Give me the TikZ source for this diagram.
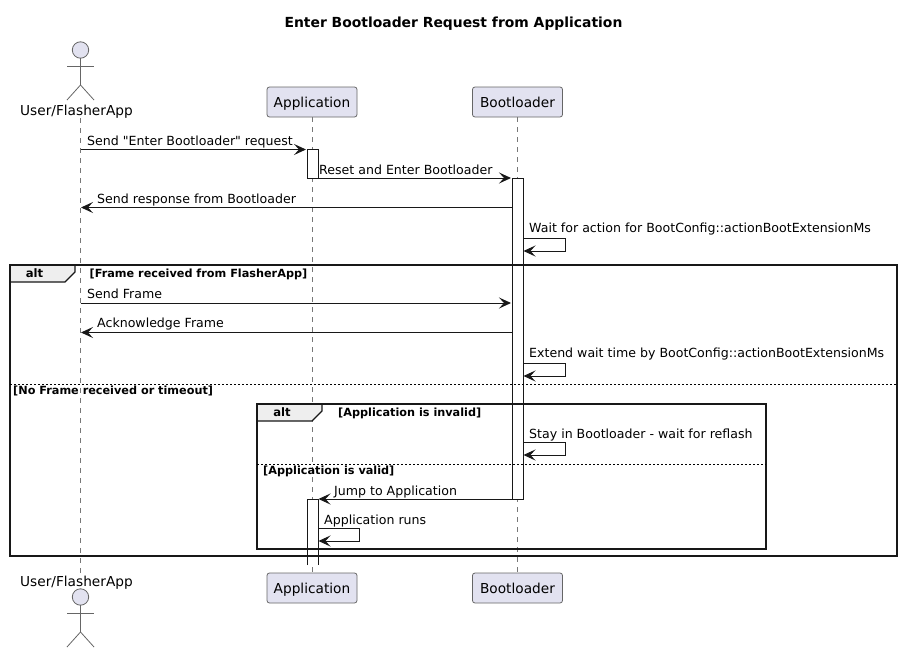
\documentclass[tikz,border=0pt]{standalone}
\usepackage{fontspec}
\setmainfont{DejaVu Sans}[Ligatures=TeXOff]
\usepackage{xcolor}
\usepackage{tikz}
\usetikzlibrary{calc}
\usetikzlibrary{positioning}
\usetikzlibrary{arrows.meta}
\definecolor{partFill}{HTML}{E2E2F0}
\definecolor{partLine}{HTML}{666666}
\definecolor{lifeColor}{HTML}{777777}
\definecolor{tabFill}{HTML}{EEEEEE}
\definecolor{msgColor}{HTML}{181818}
\tikzset{
    part/.style = {draw=partLine, fill=partFill, rounded corners=2.5pt, minimum width=90pt, minimum height=30pt, inner sep=0pt, text height=12pt, text depth=2pt, font=\fontsize{13.7}{16}\selectfont, line width=0.8pt},
    actorlabel/.style = {inner sep=0pt, minimum height=16pt, text height=12pt, text depth=2pt, font=\fontsize{13.7}{16}\selectfont},
    actorline/.style = {draw=partLine, line width=0.8pt},
    lifeline/.style = {draw=lifeColor, line width=0.7pt, dash pattern=on 5pt off 5pt},
    bar/.style = {draw=msgColor, fill=white, line width=1pt},
    msg/.style = {draw=msgColor, line width=1pt, -{Stealth[length=12pt, width=11pt, inset=5pt]}},
    msgtext/.style = {anchor=base west, inner sep=0pt, font=\fontsize{12.58}{15}\selectfont},
    frame/.style = {draw=msgColor, line width=1.5pt},
    tab/.style = {draw=msgColor, fill=tabFill, line width=1.3pt},
    tabtext/.style = {inner sep=0pt, font=\fontsize{11.6}{14}\selectfont\bfseries},
    guard/.style = {anchor=base west, inner sep=0pt, font=\fontsize{11.25}{13}\selectfont\bfseries},
    split/.style = {draw=black, line width=0.8pt, dash pattern=on 2pt off 2pt}
}
% one stick figure, head centre given
\newcommand{\stickman}[1]{
    \filldraw[actorline, fill=partFill] (#1) circle (8.2pt);
    \draw[actorline] ($(#1)+(0,8.2)$) -- ($(#1)+(0,35)$) -- ($(#1)+(-13.5,50)$);
    \draw[actorline] ($(#1)+(0,35)$) -- ($(#1)+(13.5,50)$);
    \draw[actorline] ($(#1)+(-13.5,16)$) -- ($(#1)+(13.5,16)$);
}
\begin{document}
\begin{tikzpicture}[x=1pt, y=-1pt]
    \useasboundingbox (0,0) rectangle (903,653);
    \fill[white] (0,0) rectangle (903,653);

    \node[font=\fontsize{13.9}{16}\selectfont\bfseries] (title) at (453.5,23.5) {Enter Bootloader Request from Application};

    % participants, top and bottom
    \coordinate (userHead) at (80.5,50);
    \coordinate (userFoot) at (80.5,597);
    \node[actorlabel] (userTop) at (76.5,110) {User/FlasherApp};
    \node[actorlabel] (userBot) at (76.5,581) {User/FlasherApp};
    \coordinate (userLifeA) at (80.5,118);
    \coordinate (userLifeB) at (80.5,573);
    \node[part] (appTop) at (312,102) {Application};
    \node[part] (appBot) at (312,588) {Application};
    \node[part] (bootTop) at (517.5,102) {Bootloader};
    \node[part] (bootBot) at (517.5,588) {Bootloader};

    \draw[lifeline] (userLifeA) -- (userLifeB);
    \draw[lifeline] (appTop) -- (appBot);
    \draw[lifeline] (bootTop) -- (bootBot);

    \stickman{userHead}
    \stickman{userFoot}

    % activation bars
    \filldraw[bar] (307,149.5) rectangle (318,178);
    \filldraw[bar] (512,178) rectangle (523,499);
    \fill[white] (307,499) rectangle (318,565);
    \draw[bar] (307,565) -- (307,499) -- (318,499) -- (318,565);

    % outer alt
    \coordinate (outerA) at (10,265);
    \coordinate (outerB) at (897,556);
    \filldraw[tab] (10,265) -- (75,265) -- (75,272) -- (65,282) -- (10,282) -- cycle;
    \draw[frame] (outerA) rectangle (outerB);
    \node[tabtext] (outerAlt) at (34.5,273.5) {alt};
    \node[guard] (guardFrame) at (89.5,277) {[Frame received from FlasherApp]};
    \coordinate (splitOutA) at (10,384);
    \coordinate (splitOutB) at (897,384);
    \draw[split] (splitOutA) -- (splitOutB);
    \node[guard] (guardNone) at (13,394) {[No Frame received or timeout]};

    % inner alt
    \coordinate (innerA) at (257,404);
    \coordinate (innerB) at (766,549);
    \filldraw[tab] (257,404) -- (322,404) -- (322,411) -- (312,421) -- (257,421) -- cycle;
    \draw[frame] (innerA) rectangle (innerB);
    \node[tabtext] (innerAlt) at (282,412.5) {alt};
    \node[guard] (guardBad) at (338,416) {[Application is invalid]};
    \coordinate (splitInA) at (257,464);
    \coordinate (splitInB) at (766,464);
    \draw[split] (splitInA) -- (splitInB);
    \node[guard] (guardGood) at (263,474.5) {[Application is valid]};

    % messages
    \coordinate (m1a) at (80.5,149.5);
    \coordinate (m1b) at (306,149.5);
    \coordinate (m2a) at (318,178);
    \coordinate (m2b) at (511,178);
    \coordinate (m3a) at (512,207.5);
    \coordinate (m3b) at (81,207.5);
    \coordinate (m4a) at (523,238);
    \coordinate (m4b) at (523.5,251);
    \coordinate (m5a) at (80.5,303);
    \coordinate (m5b) at (511,303);
    \coordinate (m6a) at (512,332.5);
    \coordinate (m6b) at (81,332.5);
    \coordinate (m7a) at (523,363);
    \coordinate (m7b) at (523.5,376);
    \coordinate (m8a) at (523,442);
    \coordinate (m8b) at (523.5,455);
    \coordinate (m9a) at (512,499);
    \coordinate (m9b) at (318.5,499);
    \coordinate (m10a) at (318,528.5);
    \coordinate (m10b) at (318.5,541);

    \draw[msg] (m1a) -- (m1b);
    \draw[msg] (m2a) -- (m2b);
    \draw[msg] (m3a) -- (m3b);
    \draw[msg] (m4a) -- (565,238) -- (565,251) -- (m4b);
    \draw[msg] (m5a) -- (m5b);
    \draw[msg] (m6a) -- (m6b);
    \draw[msg] (m7a) -- (565,363) -- (565,376) -- (m7b);
    \draw[msg] (m8a) -- (565,442) -- (565,455) -- (m8b);
    \draw[msg] (m9a) -- (m9b);
    \draw[msg] (m10a) -- (359.5,528.5) -- (359.5,541) -- (m10b);

    \node[msgtext] (t1) at (87,145) {Send "Enter Bootloader" request};
    \node[msgtext] (t2) at (319,174) {Reset and Enter Bootloader};
    \node[msgtext] (t3) at (97,203) {Send response from Bootloader};
    \node[msgtext] (t4) at (529,232.5) {Wait for action for BootConfig::actionBootExtensionMs};
    \node[msgtext] (t5) at (87,298) {Send Frame};
    \node[msgtext] (t6) at (97,327) {Acknowledge Frame};
    \node[msgtext] (t7) at (529,357.5) {Extend wait time by BootConfig::actionBootExtensionMs};
    \node[msgtext] (t8) at (529,438) {Stay in Bootloader - wait for reflash};
    \node[msgtext] (t9) at (334,495) {Jump to Application};
    \node[msgtext] (t10) at (324,524) {Application runs};
\end{tikzpicture}
\end{document}
